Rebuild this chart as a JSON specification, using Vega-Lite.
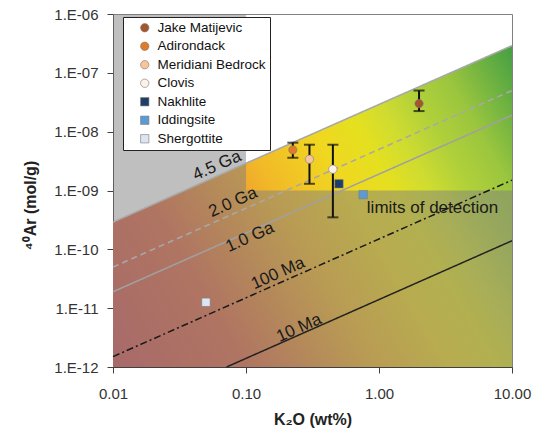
{
  "$schema": "https://vega.github.io/schema/vega-lite/v6.json",
  "width": 399,
  "height": 353,
  "autosize": {"type": "none"},
  "padding": {"left": 113, "top": 14, "right": 22, "bottom": 64},
  "background": "white",
  "config": {
    "font": "Liberation Sans",
    "view": {"stroke": "#808080", "strokeWidth": 1}
  },
  "datasets": {
    "zone": [
      {"k": 0.01, "ar": 2.9e-10, "ar2": 1e-12},
      {"k": 10, "ar": 2.9e-7, "ar2": 1e-12}
    ],
    "shade": [
      {"k": 0.01, "k2": 0.1, "ar": 1e-12, "ar2": 1e-6},
      {"k": 0.1, "k2": 10, "ar": 1e-12, "ar2": 1e-9}
    ],
    "ages": [
      {"age": "4.5 Ga", "k": 0.01, "ar": 2.9e-10},
      {"age": "4.5 Ga", "k": 10, "ar": 2.9e-7},
      {"age": "2.0 Ga", "k": 0.01, "ar": 5.0e-11},
      {"age": "2.0 Ga", "k": 10, "ar": 5.0e-8},
      {"age": "1.0 Ga", "k": 0.01, "ar": 1.9e-11},
      {"age": "1.0 Ga", "k": 10, "ar": 1.9e-8},
      {"age": "100 Ma", "k": 0.01, "ar": 1.5e-12},
      {"age": "100 Ma", "k": 10, "ar": 1.5e-9},
      {"age": "10 Ma", "k": 0.0714, "ar": 1e-12},
      {"age": "10 Ma", "k": 10, "ar": 1.4e-10}
    ],
    "labels": [
      {"txt": "4.5 Ga", "k": 0.0605, "ar": 2.65e-9},
      {"txt": "2.0 Ga", "k": 0.0798, "ar": 6.3e-10},
      {"txt": "1.0 Ga", "k": 0.107, "ar": 1.6e-10},
      {"txt": "100 Ma", "k": 0.174, "ar": 3.9e-11},
      {"txt": "10 Ma", "k": 0.25, "ar": 4.6e-12}
    ],
    "note": [
      {"txt": "limits of detection", "k": 0.81, "ar": 5.0e-10}
    ],
    "bars": [
      {"sample": "Jake Matijevic", "k": 2.0, "ar": 2.24e-8, "ar2": 5.0e-8},
      {"sample": "Adirondack", "k": 0.225, "ar": 3.6e-9, "ar2": 6.5e-9},
      {"sample": "Meridiani Bedrock", "k": 0.30, "ar": 1.3e-9, "ar2": 6.0e-9},
      {"sample": "Clovis", "k": 0.45, "ar": 3.5e-10, "ar2": 6.0e-9}
    ],
    "caps": [
      {"k": 2.0, "ar": 2.24e-8},
      {"k": 2.0, "ar": 5.0e-8},
      {"k": 0.225, "ar": 3.6e-9},
      {"k": 0.225, "ar": 6.5e-9},
      {"k": 0.30, "ar": 1.3e-9},
      {"k": 0.30, "ar": 6.0e-9},
      {"k": 0.45, "ar": 3.5e-10},
      {"k": 0.45, "ar": 6.0e-9}
    ],
    "samples": [
      {"sample": "Jake Matijevic", "k": 2.0, "ar": 3.0e-8},
      {"sample": "Adirondack", "k": 0.225, "ar": 4.9e-9},
      {"sample": "Meridiani Bedrock", "k": 0.30, "ar": 3.4e-9},
      {"sample": "Clovis", "k": 0.45, "ar": 2.3e-9},
      {"sample": "Nakhlite", "k": 0.50, "ar": 1.3e-9},
      {"sample": "Iddingsite", "k": 0.76, "ar": 8.5e-10},
      {"sample": "Shergottite", "k": 0.050, "ar": 1.26e-11}
    ]
  },
  "encoding": {
    "x": {
      "field": "k",
      "type": "quantitative",
      "scale": {"type": "log", "domain": [0.01, 10], "nice": false},
      "axis": {
        "values": [0.01, 0.1, 1, 10],
        "format": ".2f",
        "grid": false,
        "title": "K₂O (wt%)",
        "titleFontSize": 16,
        "titleFontWeight": "bold",
        "titleColor": "#222",
        "titleY": 52,
        "titleBaseline": "middle",
        "labelFontSize": 15,
        "labelColor": "#333",
        "labelPadding": 13,
        "labelFlush": false,
        "labelOverlap": false,
        "tickSize": 6,
        "tickColor": "#404040",
        "domainColor": "#404040"
      }
    },
    "y": {
      "field": "ar",
      "type": "quantitative",
      "scale": {"type": "log", "domain": [1e-12, 1e-6], "nice": false},
      "axis": {
        "values": [1e-12, 1e-11, 1e-10, 1e-9, 1e-8, 1e-7, 1e-6],
        "labelExpr": "'1.E-' + (abs(round(log(datum.value)/LN10)) < 10 ? '0' : '') + abs(round(log(datum.value)/LN10))",
        "grid": false,
        "title": "⁴⁰Ar (mol/g)",
        "titleFontSize": 16,
        "titleFontWeight": "bold",
        "titleColor": "#222",
        "titleX": -83,
        "titleY": 191,
        "titleAlign": "center",
        "titleBaseline": "middle",
        "labelFontSize": 15,
        "labelColor": "#333",
        "labelPadding": 9,
        "labelOverlap": false,
        "tickSize": 6,
        "tickColor": "#404040",
        "domainColor": "#404040"
      }
    }
  },
  "layer": [
    {
      "data": {"name": "zone"},
      "mark": {
        "type": "area",
        "fill": {
          "gradient": "linear",
          "x1": 0, "y1": 1, "x2": 1.2, "y2": 0.44,
          "stops": [
            {"offset": 0, "color": "#d05454"},
            {"offset": 0.23, "color": "#e06a44"},
            {"offset": 0.45, "color": "#f2b828"},
            {"offset": 0.58, "color": "#f0d820"},
            {"offset": 0.66, "color": "#e4e020"},
            {"offset": 0.72, "color": "#d0dc30"},
            {"offset": 0.79, "color": "#b0d03a"},
            {"offset": 0.86, "color": "#9cc63e"},
            {"offset": 1, "color": "#46a044"}
          ]
        }
      },
      "encoding": {"y2": {"field": "ar2"}}
    },
    {
      "data": {"name": "shade"},
      "mark": {"type": "rect", "fill": "#808080", "opacity": 0.5},
      "encoding": {"x2": {"field": "k2"}, "y2": {"field": "ar2"}}
    },
    {
      "data": {"name": "ages"},
      "mark": {"type": "line"},
      "encoding": {
        "stroke": {
          "field": "age", "type": "nominal",
          "scale": {"domain": ["4.5 Ga", "2.0 Ga", "1.0 Ga", "100 Ma", "10 Ma"], "range": ["#a8a8a8", "#a8a8a8", "#a0a0a0", "#1a1a1a", "#222222"]},
          "legend": null
        },
        "strokeDash": {
          "field": "age", "type": "nominal",
          "scale": {"domain": ["4.5 Ga", "2.0 Ga", "1.0 Ga", "100 Ma", "10 Ma"], "range": [[1, 0], [6, 4], [1, 0], [7, 3, 2, 3], [1, 0]]},
          "legend": null
        },
        "strokeWidth": {
          "field": "age", "type": "nominal",
          "scale": {"domain": ["4.5 Ga", "2.0 Ga", "1.0 Ga", "100 Ma", "10 Ma"], "range": [1.6, 1.5, 1.2, 1.5, 1]},
          "legend": null
        }
      }
    },
    {
      "data": {"name": "labels"},
      "mark": {"type": "text", "angle": -24, "fontSize": 17, "align": "center", "baseline": "middle", "color": "#1a1a1a"},
      "encoding": {"text": {"field": "txt"}}
    },
    {
      "data": {"name": "note"},
      "mark": {"type": "text", "angle": 0, "fontSize": 17, "align": "left", "baseline": "middle", "color": "#1a1a1a"},
      "encoding": {"text": {"field": "txt"}}
    },
    {
      "data": {"name": "bars"},
      "mark": {"type": "rule", "color": "#111", "strokeWidth": 2},
      "encoding": {"y2": {"field": "ar2"}}
    },
    {
      "data": {"name": "caps"},
      "mark": {"type": "tick", "orient": "horizontal", "color": "#111", "size": 11, "thickness": 2},
      "encoding": {}
    },
    {
      "data": {"name": "samples"},
      "mark": {"type": "point", "filled": true, "opacity": 1, "stroke": "#7a7a7a", "strokeWidth": 0.6},
      "encoding": {
        "color": {
          "field": "sample", "type": "nominal",
          "scale": {
            "domain": ["Jake Matijevic", "Adirondack", "Meridiani Bedrock", "Clovis", "Nakhlite", "Iddingsite", "Shergottite"],
            "range": ["#a4552a", "#e27a26", "#f7c49c", "#fdf2ea", "#1f3d68", "#5b9bd5", "#dce6f2"]
          },
          "legend": {
            "title": null, "orient": "none", "legendX": 10, "legendY": 3,
            "labelFontSize": 13.5, "labelColor": "#111", "padding": 4, "rowPadding": 3.5,
            "strokeColor": "#222", "fillColor": "white", "symbolSize": 45,
            "symbolOffset": 11, "labelOffset": 6, "symbolStrokeWidth": 0.6, "symbolStrokeColor": "#777"
          }
        },
        "shape": {
          "field": "sample", "type": "nominal",
          "scale": {
            "domain": ["Jake Matijevic", "Adirondack", "Meridiani Bedrock", "Clovis", "Nakhlite", "Iddingsite", "Shergottite"],
            "range": ["circle", "circle", "circle", "circle", "square", "square", "square"]
          },
          "legend": {
            "title": null, "orient": "none", "legendX": 10, "legendY": 3,
            "labelFontSize": 13.5, "labelColor": "#111", "padding": 4, "rowPadding": 3.5,
            "strokeColor": "#222", "fillColor": "white", "symbolSize": 45,
            "symbolOffset": 11, "labelOffset": 6, "symbolStrokeWidth": 0.6, "symbolStrokeColor": "#777"
          }
        },
        "size": {
          "field": "sample", "type": "nominal",
          "scale": {
            "domain": ["Jake Matijevic", "Adirondack", "Meridiani Bedrock", "Clovis", "Nakhlite", "Iddingsite", "Shergottite"],
            "range": [70, 70, 120, 80, 60, 55, 50]
          },
          "legend": null
        }
      }
    }
  ]
}
